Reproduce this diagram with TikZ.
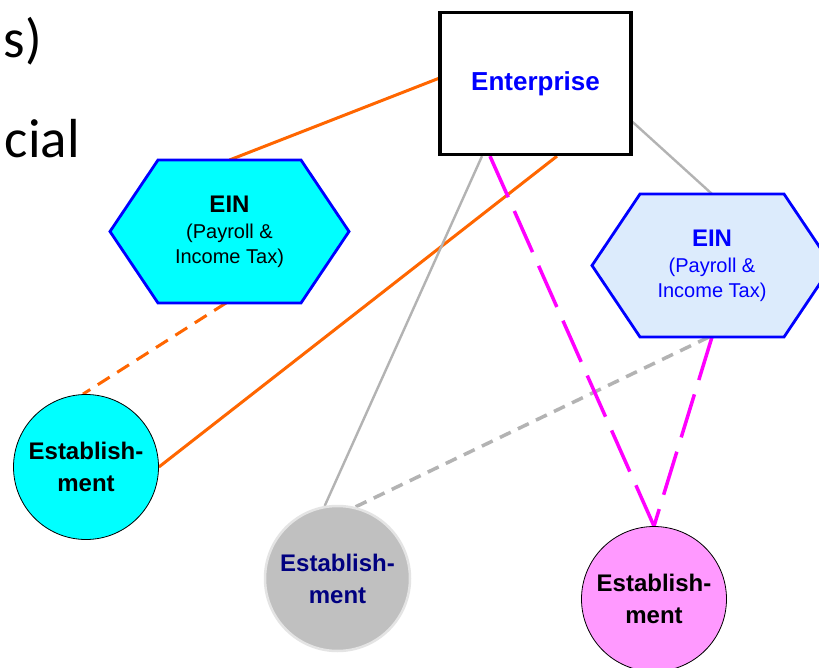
\documentclass[tikz,border=0pt]{standalone}
\usepackage{fontspec}
\setmainfont{Liberation Sans}
\newfontfamily\calfont{Carlito}
\pgfdeclarelayer{bg}
\pgfsetlayers{bg,main}
\definecolor{orng}{RGB}{255,102,0}
\definecolor{cyanfill}{RGB}{0,255,255}
\definecolor{hexblue}{RGB}{0,0,255}
\definecolor{lbluefill}{RGB}{220,235,252}
\definecolor{grayfill}{RGB}{192,192,192}
\definecolor{grayedge}{RGB}{228,228,228}
\definecolor{pinkfill}{RGB}{255,153,255}
\definecolor{magline}{RGB}{255,0,255}
\definecolor{greyline}{RGB}{179,179,179}
\definecolor{navytext}{RGB}{0,0,128}
\tikzset{
  entbox/.style={draw=black, fill=white, line width=3.3pt, minimum width=191pt, minimum height=142pt,
    font=\bfseries\fontsize{26}{31}\selectfont, text=hexblue},
  hexnode/.style={inner sep=0pt, outer sep=0pt, minimum width=239pt, minimum height=143pt, align=center,
    font=\fontsize{20}{25}\selectfont},
  hexshape/.style={draw=hexblue, line width=2.8pt},
  estnode/.style={circle, inner sep=0pt, minimum size=145pt, align=center,
    font=\bfseries\fontsize{24}{32}\selectfont},
  orline/.style={draw=orng, line width=3pt},
  ordash/.style={draw=orng, line width=3pt, dash pattern=on 14pt off 9pt},
  grline/.style={draw=greyline, line width=2.4pt},
  grdash/.style={draw=greyline, line width=3.5pt, dash pattern=on 12pt off 8pt},
  magdash/.style={draw=magline, line width=3.5pt, dash pattern=on 45pt off 15pt},
  slidetext/.style={font=\calfont\fontsize{55}{66}\selectfont, inner sep=0pt}
}
\begin{document}
\begin{tikzpicture}[x=1pt,y=-1pt]
\useasboundingbox (0,0) rectangle (819,668);
% slide text fragments
\node[slidetext, anchor=base east] (txtA) at (42,58) {s)};
\node[slidetext, anchor=base east] (txtB) at (80,158) {cial};
% nodes
\node[entbox] (ent) at (535.5,83.5) {Enterprise};
\node[hexnode] (einL) at (229.5,231.5) {{\bfseries\fontsize{24}{29}\selectfont EIN}\\[1pt](Payroll \&\\Income Tax)};
\node[hexnode, minimum width=240pt, text=hexblue] (einR) at (712,265.5) {{\bfseries\fontsize{24}{29}\selectfont EIN}\\[1pt](Payroll \&\\Income Tax)};
\node[estnode, fill=cyanfill, draw=black, line width=0.8pt] (estL) at (86,467) {Establish-\\ment};
\node[estnode, fill=grayfill, draw=grayedge, line width=2.5pt, text=navytext] (estG) at (337.5,578.5) {Establish-\\ment};
\node[estnode, fill=pinkfill, draw=black, line width=0.8pt] (estP) at (654,599) {Establish-\\ment};
\begin{pgfonlayer}{bg}
  \fill[white] (0,0) rectangle (819,668);
  \draw[orline] (einL.north) -- ([yshift=5pt]ent.west);
  \draw[orline] ([xshift=21.5pt]ent.south) -- (estL.east);
  \draw[ordash] ([xshift=-3.5pt]einL.south) -- ([xshift=-3pt]estL.north);
  \draw[grline] ([xshift=-53.5pt]ent.south) -- (estG.100);
  \draw[grline] ([yshift=-38.5pt]ent.east) -- (einR.north);
  \draw[grdash] ([xshift=-3pt]einR.south) -- (estG.76);
  \draw[magdash] ([xshift=-45.5pt]ent.south) -- (estP.north);
  \draw[magdash] (einR.south) -- (estP.north);
  \draw[hexshape, fill=cyanfill] (einL.west) -- ([xshift=48pt]einL.north west) -- ([xshift=-48pt]einL.north east)
    -- (einL.east) -- ([xshift=-48pt]einL.south east) -- ([xshift=48pt]einL.south west) -- cycle;
  \draw[hexshape, fill=lbluefill] (einR.west) -- ([xshift=48pt]einR.north west) -- ([xshift=-48pt]einR.north east)
    -- (einR.east) -- ([xshift=-48pt]einR.south east) -- ([xshift=48pt]einR.south west) -- cycle;
\end{pgfonlayer}
\end{tikzpicture}
\end{document}
